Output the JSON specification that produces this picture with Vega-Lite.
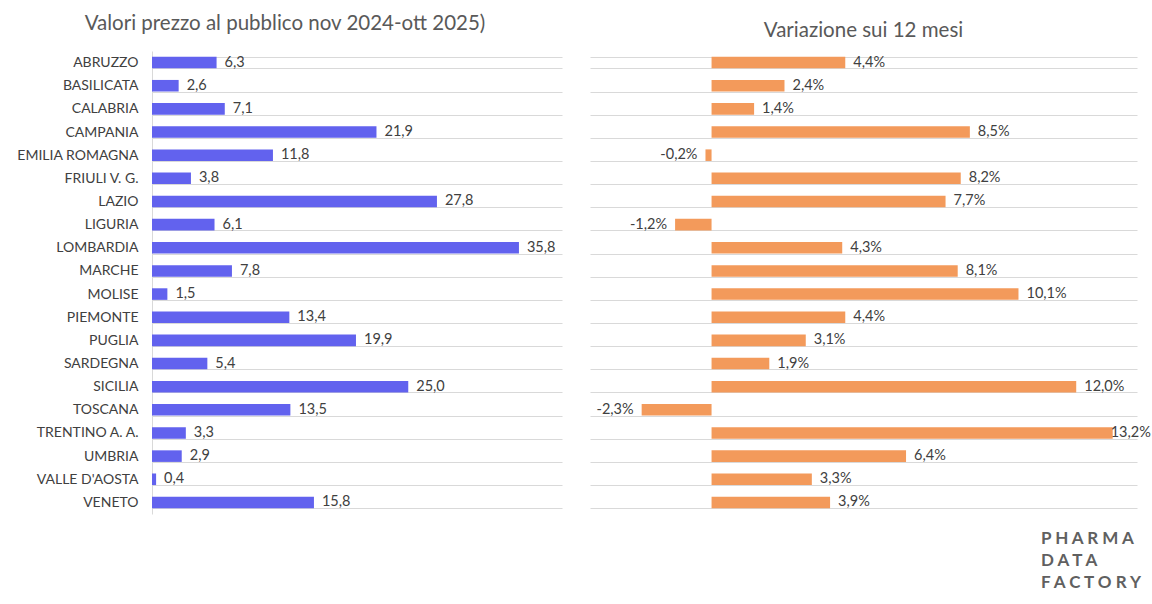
{
  "$schema": "https://vega.github.io/schema/vega-lite/v6.json",
  "background": "white",
  "padding": {"left": 8, "top": 13, "right": 0, "bottom": 0},
  "config": {
    "font": "Lato",
    "view": {"stroke": null},
    "locale": {
      "number": {"decimal": ",", "thousands": ".", "grouping": [3], "currency": ["€", ""], "minus": "-"}
    },
    "title": {"fontSize": 20.5, "fontWeight": "normal", "color": "#595959", "font": "Lato"}
  },
  "datasets": {
    "regions": [
      {"regione": "ABRUZZO", "valore": 6.3, "var": 0.044},
      {"regione": "BASILICATA", "valore": 2.6, "var": 0.024},
      {"regione": "CALABRIA", "valore": 7.1, "var": 0.014},
      {"regione": "CAMPANIA", "valore": 21.9, "var": 0.085},
      {"regione": "EMILIA ROMAGNA", "valore": 11.8, "var": -0.002},
      {"regione": "FRIULI V. G.", "valore": 3.8, "var": 0.082},
      {"regione": "LAZIO", "valore": 27.8, "var": 0.077},
      {"regione": "LIGURIA", "valore": 6.1, "var": -0.012},
      {"regione": "LOMBARDIA", "valore": 35.8, "var": 0.043},
      {"regione": "MARCHE", "valore": 7.8, "var": 0.081},
      {"regione": "MOLISE", "valore": 1.5, "var": 0.101},
      {"regione": "PIEMONTE", "valore": 13.4, "var": 0.044},
      {"regione": "PUGLIA", "valore": 19.9, "var": 0.031},
      {"regione": "SARDEGNA", "valore": 5.4, "var": 0.019},
      {"regione": "SICILIA", "valore": 25.0, "var": 0.120},
      {"regione": "TOSCANA", "valore": 13.5, "var": -0.023},
      {"regione": "TRENTINO A. A.", "valore": 3.3, "var": 0.132},
      {"regione": "UMBRIA", "valore": 2.9, "var": 0.064},
      {"regione": "VALLE D'AOSTA", "valore": 0.4, "var": 0.033},
      {"regione": "VENETO", "valore": 15.8, "var": 0.039}
    ],
    "logo": [
      {"riga": "1", "testo": "P H A R M A"},
      {"riga": "2", "testo": "D A T A"},
      {"riga": "3", "testo": "F A C T O R Y"}
    ]
  },
  "vconcat": [
    {
      "hconcat": [
        {
          "width": 410,
          "height": 463,
          "title": {"text": "Valori prezzo al pubblico nov 2024-ott 2025)", "frame": "bounds", "anchor": "middle", "offset": 10},
          "data": {"name": "regions"},
          "encoding": {
            "y": {
              "field": "regione", "type": "nominal", "sort": null,
              "scale": {"paddingInner": 0.5, "paddingOuter": 0.25},
              "axis": {
                "title": null, "labelFontSize": 14, "labelColor": "#404040", "labelPadding": 14,
                "ticks": false, "domainColor": "#d9d9d9", "grid": true, "gridColor": "#d9d9d9",
                "tickBand": "extent", "minExtent": 144, "maxExtent": 144, "labelLimit": 200
              }
            }
          },
          "layer": [
            {
              "mark": {"type": "bar", "color": "#6262EE"},
              "encoding": {"x": {"field": "valore", "type": "quantitative", "scale": {"domain": [0, 40], "nice": false}, "axis": null}}
            },
            {
              "mark": {"type": "text", "align": "left", "dx": 8, "fontSize": 14.5, "color": "#404040"},
              "encoding": {
                "x": {"field": "valore", "type": "quantitative"},
                "text": {"field": "valore", "type": "quantitative", "format": ".1f"}
              }
            }
          ]
        },
        {
          "width": 547,
          "height": 463,
          "title": {"text": "Variazione sui 12 mesi", "frame": "group", "anchor": "middle", "offset": 10},
          "data": {"name": "regions"},
          "encoding": {
            "y": {
              "field": "regione", "type": "nominal", "sort": null,
              "scale": {"paddingInner": 0.5, "paddingOuter": 0.25},
              "axis": {
                "title": null, "labels": false, "ticks": false, "domain": false,
                "grid": true, "gridColor": "#d9d9d9", "tickBand": "extent"
              }
            }
          },
          "layer": [
            {
              "mark": {"type": "bar", "color": "#F39A5B"},
              "encoding": {"x": {"field": "var", "type": "quantitative", "scale": {"domain": [-0.04, 0.14], "nice": false, "zero": false}, "axis": null}}
            },
            {
              "transform": [{"filter": "datum['var'] >= 0 && datum['var'] < 0.13"}],
              "mark": {"type": "text", "align": "left", "dx": 8, "fontSize": 14.5, "color": "#404040"},
              "encoding": {
                "x": {"field": "var", "type": "quantitative"},
                "text": {"field": "var", "type": "quantitative", "format": ".1%"}
              }
            },
            {
              "transform": [{"filter": "datum['var'] >= 0.13"}],
              "mark": {"type": "text", "align": "left", "dx": -2, "fontSize": 14.5, "color": "#404040"},
              "encoding": {
                "x": {"field": "var", "type": "quantitative"},
                "text": {"field": "var", "type": "quantitative", "format": ".1%"}
              }
            },
            {
              "transform": [{"filter": "datum['var'] < 0"}],
              "mark": {"type": "text", "align": "right", "dx": -8, "fontSize": 14.5, "color": "#404040"},
              "encoding": {
                "x": {"field": "var", "type": "quantitative"},
                "text": {"field": "var", "type": "quantitative", "format": ".1%"}
              }
            }
          ]
        }
      ],
      "spacing": 28
    },
    {
      "width": 889,
      "height": 66,
      "data": {"name": "logo"},
      "mark": {"type": "text", "align": "left", "baseline": "middle", "fontSize": 17, "fontWeight": "bold", "color": "#606060"},
      "encoding": {
        "x": {"value": "width"},
        "y": {"field": "riga", "type": "nominal", "axis": null, "scale": {"type": "band", "padding": 0}},
        "text": {"field": "testo", "type": "nominal"}
      }
    }
  ],
  "spacing": 14
}
